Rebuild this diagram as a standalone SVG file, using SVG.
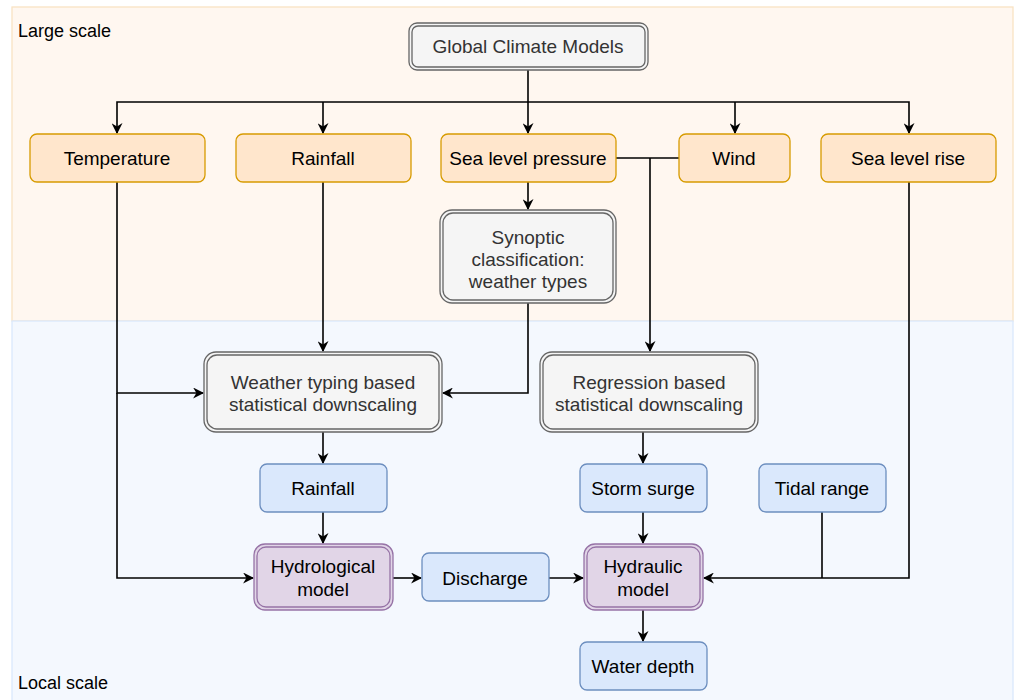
<svg xmlns="http://www.w3.org/2000/svg" width="1017" height="700" viewBox="0 0 1017 700">
<defs>
<style>
text{font-family:"Liberation Sans",Arial,sans-serif;font-size:19px;text-anchor:middle;}
.lbl{text-anchor:start;fill:#000;font-size:18px;}
.o rect{fill:#ffe6cc;stroke:#d79b00;stroke-width:1.3;}
.b rect{fill:#dae8fc;stroke:#6c8ebf;stroke-width:1.3;}
.g rect.out{fill:#f5f5f5;stroke:#666;stroke-width:1.3;}
.g rect.in{fill:none;stroke:#666;stroke-width:1.3;}
.p rect.out{fill:#e1d5e7;stroke:#9673a6;stroke-width:1.3;}
.p rect.in{fill:none;stroke:#9673a6;stroke-width:1.3;}
.g text{fill:#333;}
.o text,.b text,.p text{fill:#000;}
.e path{fill:none;stroke:#000;stroke-width:1.6;}
</style>
<marker id="ah" viewBox="0 0 10 10" refX="9" refY="5" markerWidth="11" markerHeight="11" markerUnits="userSpaceOnUse" orient="auto">
<path d="M0,0 L10,5 L0,10 L3,5 Z" fill="#000"/>
</marker>
</defs>
<rect width="1017" height="700" fill="#fff"/>
<g id="large-scale">
<rect x="12" y="7" width="1001" height="314" fill="#fff7f0" stroke="#f9e3c3" stroke-width="1.3"/>
<text class="lbl" x="18" y="37">Large scale</text>
</g>
<g id="local-scale">
<rect x="12" y="321" width="1001" height="385" fill="#f4f8fe" stroke="#dae8fc" stroke-width="1.3"/>
<text class="lbl" x="18" y="689">Local scale</text>
</g>
<g class="e" id="connectors">
<path d="M528,70 V102" stroke-width="2.4"/>
<path d="M528,102 H117 V133" marker-end="url(#ah)"/>
<path d="M323,102 V133" marker-end="url(#ah)"/>
<path d="M528,102 V133" marker-end="url(#ah)"/>
<path d="M528,102 H909 V133" marker-end="url(#ah)"/>
<path d="M735,102 V133" marker-end="url(#ah)"/>
<path d="M616,158 H679"/>
<path d="M650,158 V351" marker-end="url(#ah)"/>
<path d="M528,182 V209" marker-end="url(#ah)"/>
<path d="M528,303 V393 H443" marker-end="url(#ah)"/>
<path d="M117,182 V393 H203" marker-end="url(#ah)"/>
<path d="M117,393 V578 H253" marker-end="url(#ah)"/>
<path d="M323,182 V351" marker-end="url(#ah)"/>
<path d="M323,432 V463" marker-end="url(#ah)"/>
<path d="M323,512 V543" marker-end="url(#ah)"/>
<path d="M393,578 H421" marker-end="url(#ah)"/>
<path d="M549,578 H583" marker-end="url(#ah)"/>
<path d="M643,432 V463" marker-end="url(#ah)"/>
<path d="M643,512 V543" marker-end="url(#ah)"/>
<path d="M643,610 V641" marker-end="url(#ah)"/>
<path d="M909,182 V578 H704" marker-end="url(#ah)"/>
<path d="M822,512 V578"/>
</g>
<g id="gcm" class="g">
<rect class="out" x="409" y="23" width="239" height="47" rx="8"/>
<rect class="in" x="412" y="26" width="233" height="41" rx="6"/>
<text x="528" y="53">Global Climate Models</text>
</g>
<g id="temperature" class="o"><rect x="30" y="134" width="175" height="48" rx="7"/><text x="117" y="165">Temperature</text></g>
<g id="rainfall-large" class="o"><rect x="236" y="134" width="175" height="48" rx="7"/><text x="323" y="165">Rainfall</text></g>
<g id="slp" class="o"><rect x="441" y="134" width="175" height="48" rx="7"/><text x="528" y="165">Sea level pressure</text></g>
<g id="wind" class="o"><rect x="679" y="134" width="111" height="48" rx="7"/><text x="734" y="165">Wind</text></g>
<g id="slr" class="o"><rect x="821" y="134" width="175" height="48" rx="7"/><text x="908" y="165">Sea level rise</text></g>
<g id="synoptic" class="g">
<rect class="out" x="440" y="210" width="176" height="93" rx="12"/>
<rect class="in" x="443" y="213" width="170" height="87" rx="10"/>
<text x="528" y="244">Synoptic</text>
<text x="528" y="266">classification:</text>
<text x="528" y="288">weather types</text>
</g>
<g id="wt-downscaling" class="g">
<rect class="out" x="204" y="352" width="238" height="80" rx="12"/>
<rect class="in" x="207" y="355" width="232" height="74" rx="10"/>
<text x="323" y="389">Weather typing based</text>
<text x="323" y="411">statistical downscaling</text>
</g>
<g id="reg-downscaling" class="g">
<rect class="out" x="540" y="352" width="218" height="80" rx="12"/>
<rect class="in" x="543" y="355" width="212" height="74" rx="10"/>
<text x="649" y="389">Regression based</text>
<text x="649" y="411">statistical downscaling</text>
</g>
<g id="rainfall-local" class="b"><rect x="260" y="464" width="127" height="48" rx="7"/><text x="323" y="495">Rainfall</text></g>
<g id="storm-surge" class="b"><rect x="580" y="464" width="127" height="48" rx="7"/><text x="643" y="495">Storm surge</text></g>
<g id="tidal-range" class="b"><rect x="759" y="464" width="127" height="48" rx="7"/><text x="822" y="495">Tidal range</text></g>
<g id="hydrological" class="p">
<rect class="out" x="254" y="544" width="139" height="66" rx="11"/>
<rect class="in" x="257" y="547" width="133" height="60" rx="9"/>
<text x="323" y="573">Hydrological</text>
<text x="323" y="596">model</text>
</g>
<g id="discharge" class="b"><rect x="422" y="553" width="127" height="48" rx="7"/><text x="485" y="585">Discharge</text></g>
<g id="hydraulic" class="p">
<rect class="out" x="584" y="544" width="119" height="66" rx="11"/>
<rect class="in" x="587" y="547" width="113" height="60" rx="9"/>
<text x="643" y="573">Hydraulic</text>
<text x="643" y="596">model</text>
</g>
<g id="water-depth" class="b"><rect x="580" y="642" width="127" height="48" rx="7"/><text x="643" y="673">Water depth</text></g>
</svg>
